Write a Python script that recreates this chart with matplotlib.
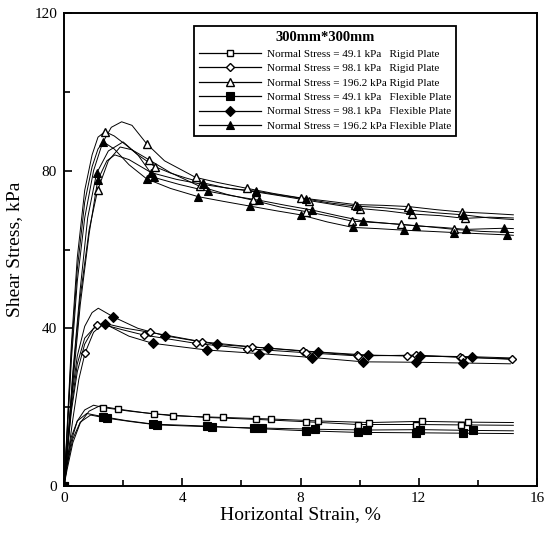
import matplotlib
matplotlib.use("Agg")
import matplotlib.pyplot as plt
from matplotlib.ticker import MultipleLocator

plt.rcParams['font.family'] = ['Liberation Serif', 'DejaVu Serif']

# ---------------- data ----------------
legend_title = "300mm*300mm"
labels = [
    "Normal Stress = 49.1 kPa   Rigid Plate",
    "Normal Stress = 98.1 kPa   Rigid Plate",
    "Normal Stress = 196.2 kPa Rigid Plate",
    "Normal Stress = 49.1 kPa   Flexible Plate",
    "Normal Stress = 98.1 kPa   Flexible Plate",
    "Normal Stress = 196.2 kPa Flexible Plate",
]
x_label = "Horizontal Strain, %"
y_label = "Shear Stress, kPa"

# ---- 49.1 kPa, rigid plate (open squares)
sr1_x = [0, 0.1, 0.25, 0.45, 0.7, 1.0, 1.33, 2.2, 3.06, 4.8, 6.5, 8.2, 9.93, 11.9, 13.43, 15.2]
sr1_y = [0, 5, 11.5, 16.5, 19.3, 20.5, 19.9, 19.0, 18.3, 17.4, 16.9, 16.3, 15.6, 15.6, 15.5, 15.4]
sr1_mx = [0, 1.33, 3.06, 4.8, 6.5, 8.2, 9.93, 11.9, 13.43]
sr1_my = [0, 19.9, 18.3, 17.4, 16.9, 16.3, 15.6, 15.6, 15.5]
sr2_x = [0, 0.1, 0.3, 0.55, 0.85, 1.2, 1.84, 2.7, 3.68, 5.37, 7.0, 8.6, 10.33, 12.1, 13.66, 15.2]
sr2_y = [0, 4, 11, 16, 19.0, 20.3, 19.5, 18.6, 17.8, 17.4, 17.0, 16.5, 16.1, 16.4, 16.2, 16.1]
sr2_mx = [0, 1.84, 3.68, 5.37, 7.0, 8.6, 10.33, 12.1, 13.66]
sr2_my = [0, 19.5, 17.8, 17.4, 17.0, 16.5, 16.1, 16.4, 16.2]

# ---- 49.1 kPa, flexible plate (filled squares)
sf1_x = [0, 0.1, 0.25, 0.45, 0.77, 1.31, 2.1, 3.02, 4.83, 6.43, 8.2, 9.95, 11.9, 13.5, 15.2]
sf1_y = [0, 6, 12.5, 16.5, 18.4, 17.6, 16.6, 15.7, 15.2, 14.6, 14.0, 13.6, 13.5, 13.4, 13.3]
sf1_mx = [0, 1.31, 3.02, 4.83, 6.43, 8.2, 9.95, 11.9, 13.5]
sf1_my = [0, 17.6, 15.7, 15.2, 14.6, 14.0, 13.6, 13.5, 13.4]
sf2_x = [0, 0.1, 0.3, 0.55, 0.9, 1.45, 2.3, 3.15, 5.0, 6.7, 8.5, 10.25, 12.05, 13.85, 15.2]
sf2_y = [0, 5, 12, 16.2, 18.0, 17.2, 16.3, 15.5, 15.0, 14.7, 14.4, 14.2, 14.3, 14.1, 14.0]
sf2_mx = [0, 1.45, 3.15, 5.0, 6.7, 8.5, 10.25, 12.05, 13.85]
sf2_my = [0, 17.2, 15.5, 15.0, 14.7, 14.4, 14.2, 14.3, 14.1]

# ---- 98.1 kPa, rigid plate (open diamonds)
dr1_x = [0, 0.1, 0.25, 0.45, 0.7, 1.1, 1.4, 2.1, 2.91, 4.66, 6.35, 8.1, 9.9, 11.6, 13.4, 15.15]
dr1_y = [0, 8, 20, 31, 37.5, 40.8, 41.2, 40.0, 39.0, 36.6, 35.3, 34.2, 33.2, 33.0, 32.8, 32.1]
dr1_mx = [0, 1.1, 2.91, 4.66, 6.35, 8.1, 9.9, 11.6, 13.4, 15.15]
dr1_my = [0, 40.8, 39.0, 36.6, 35.3, 34.2, 33.2, 33.0, 32.8, 32.1]
dr2_x = [0, 0.12, 0.3, 0.5, 0.71, 1.0, 1.3, 2.0, 2.7, 4.45, 6.2, 8.2, 9.95, 11.9, 13.45, 15.1]
dr2_y = [0, 7, 17, 27, 33.7, 39.0, 41.0, 39.6, 38.3, 36.2, 34.8, 33.8, 33.0, 33.2, 32.6, 32.3]
dr2_mx = [0, 0.71, 2.7, 4.45, 6.2, 8.2, 9.95, 11.9, 13.45]
dr2_my = [0, 33.7, 38.3, 36.2, 34.8, 33.8, 33.0, 33.2, 32.6]

# ---- 98.1 kPa, flexible plate (filled diamonds)
df1_x = [0, 0.1, 0.25, 0.45, 0.7, 0.95, 1.16, 1.67, 2.5, 3.42, 5.17, 6.9, 8.6, 10.3, 12.04, 13.8, 15.1]
df1_y = [0, 9, 22, 33, 40.5, 44.0, 45.1, 42.9, 40.0, 38.1, 35.9, 35.0, 34.0, 33.2, 33.0, 32.8, 32.5]
df1_mx = [0, 1.67, 3.42, 5.17, 6.9, 8.6, 10.3, 12.04, 13.8]
df1_my = [0, 42.9, 38.1, 35.9, 35.0, 34.0, 33.2, 33.0, 32.8]
df2_x = [0, 0.1, 0.25, 0.45, 0.7, 1.0, 1.39, 2.2, 3.0, 4.83, 6.6, 8.4, 10.13, 11.9, 13.5, 15.1]
df2_y = [0, 8, 19, 29, 36, 40.0, 41.1, 38.0, 36.2, 34.5, 33.6, 32.6, 31.5, 31.4, 31.2, 31.0]
df2_mx = [0, 1.39, 3.0, 4.83, 6.6, 8.4, 10.13, 11.9, 13.5]
df2_my = [0, 41.1, 36.2, 34.5, 33.6, 32.6, 31.5, 31.4, 31.2]

# ---- 196.2 kPa, rigid plate (open triangles)
tr1_x = [0, 0.1, 0.25, 0.45, 0.7, 1.0, 1.3, 1.6, 1.95, 2.3, 2.8, 3.4, 4.45, 5.2, 6.2, 7.1, 8.0, 9.0, 9.85, 10.8, 11.65, 12.6, 13.45, 14.3, 15.2]
tr1_y = [0, 12, 32, 52, 68, 80, 87, 91, 92.4, 91.5, 86.8, 82.5, 78.3, 77.0, 75.5, 74.2, 73.1, 72.2, 71.4, 71.2, 70.9, 70.1, 69.5, 69.2, 68.8]
tr1_mx = [0, 2.8, 4.45, 6.2, 8.0, 9.85, 11.65, 13.45]
tr1_my = [0, 86.8, 78.3, 75.5, 73.1, 71.4, 70.9, 69.5]
tr2_x = [0, 0.1, 0.25, 0.45, 0.7, 0.95, 1.15, 1.39, 1.7, 2.1, 2.5, 3.08, 3.6, 4.1, 4.71, 5.5, 6.5, 7.5, 8.3, 9.2, 10.0, 10.9, 11.76, 12.7, 13.56, 14.4, 15.2]
tr2_y = [0, 14, 36, 58, 75, 84, 88.5, 89.9, 88.8, 86.5, 84.0, 81.0, 79.4, 78.2, 76.9, 75.6, 74.6, 73.4, 72.4, 71.3, 70.4, 69.8, 69.0, 68.6, 67.9, 68.2, 68.0]
tr2_mx = [0, 1.39, 3.08, 4.71, 6.5, 8.3, 10.0, 11.76, 13.56]
tr2_my = [0, 89.9, 81.0, 76.9, 74.6, 72.4, 70.4, 69.0, 67.9]
tr3_x = [0, 0.12, 0.3, 0.55, 0.85, 1.14, 1.5, 1.9, 2.3, 2.89, 3.6, 4.6, 5.5, 6.4, 7.3, 8.2, 9.1, 9.73, 10.6, 11.4, 12.3, 13.2, 14.1, 15.2]
tr3_y = [0, 10, 28, 48, 65, 75.1, 82.5, 86.0, 85.3, 82.7, 79.5, 76.0, 74.0, 72.5, 70.8, 69.6, 68.3, 67.2, 66.8, 66.4, 65.8, 65.1, 64.6, 64.3]
tr3_mx = [0, 1.14, 2.89, 4.6, 6.4, 8.2, 9.73, 11.4, 13.2]
tr3_my = [0, 75.1, 82.7, 76.0, 72.5, 69.6, 67.2, 66.4, 65.1]

# ---- 196.2 kPa, flexible plate (filled triangles)
tf1_x = [0, 0.1, 0.25, 0.45, 0.7, 0.95, 1.15, 1.33, 1.7, 2.2, 2.8, 3.6, 4.54, 5.4, 6.3, 7.2, 8.0, 8.9, 9.77, 10.6, 11.5, 12.4, 13.2, 14.1, 15.0, 15.2]
tf1_y = [0, 13, 34, 55, 72, 81, 85.5, 87.3, 85.5, 81.5, 77.9, 75.5, 73.4, 72.2, 71.0, 69.8, 68.8, 67.0, 65.6, 65.3, 64.9, 64.6, 64.3, 64.0, 63.7, 63.6]
tf1_mx = [0, 1.33, 2.8, 4.54, 6.3, 8.0, 9.77, 11.5, 13.2, 15.0]
tf1_my = [0, 87.3, 77.9, 73.4, 71.0, 68.8, 65.6, 64.9, 64.3, 63.7]
tf2_x = [0, 0.12, 0.3, 0.55, 0.8, 1.1, 1.5, 2.0, 2.5, 3.04, 3.9, 4.86, 5.7, 6.6, 7.5, 8.4, 9.3, 10.13, 11.0, 11.9, 12.8, 13.6, 14.9, 15.2]
tf2_y = [0, 10, 29, 50, 68, 79.3, 85.0, 87.3, 84.0, 78.3, 76.5, 74.8, 73.6, 72.5, 71.2, 70.0, 68.5, 67.2, 66.6, 66.0, 65.6, 65.1, 65.4, 65.3]
tf2_mx = [0, 1.1, 3.04, 4.86, 6.6, 8.4, 10.13, 11.9, 13.6, 14.9]
tf2_my = [0, 79.3, 78.3, 74.8, 72.5, 70.0, 67.2, 66.0, 65.1, 65.4]
tf3_x = [0, 0.12, 0.3, 0.55, 0.85, 1.14, 1.45, 1.72, 2.2, 2.95, 3.8, 4.7, 5.6, 6.5, 7.3, 8.2, 9.0, 9.9, 10.8, 11.7, 12.6, 13.5, 14.4, 15.2]
tf3_y = [0, 9, 26, 46, 64, 77.6, 82.5, 84.0, 82.8, 79.5, 77.8, 76.5, 75.5, 74.8, 73.8, 72.8, 71.8, 71.0, 70.6, 70.0, 69.3, 68.8, 68.0, 67.6]
tf3_mx = [0, 1.14, 2.95, 4.7, 6.5, 8.2, 9.9, 11.7, 13.5]
tf3_my = [0, 77.6, 79.5, 76.5, 74.8, 72.8, 71.0, 70.0, 68.8]

# ---------------- drawing ----------------
fig = plt.figure(figsize=(5.45, 5.36), dpi=100)
ax = fig.add_axes([64 / 545, 50 / 536, 473 / 545, 473 / 536])

lw = 0.7
open_kw = dict(markerfacecolor='white', markeredgecolor='black', markeredgewidth=1.0)
fill_kw = dict(markerfacecolor='black', markeredgecolor='black', markeredgewidth=0.8)

curves = [
    (sr1_x, sr1_y, sr1_mx, sr1_my, 's', 5.0, open_kw),
    (sr2_x, sr2_y, sr2_mx, sr2_my, 's', 5.0, open_kw),
    (sf1_x, sf1_y, sf1_mx, sf1_my, 's', 5.8, fill_kw),
    (sf2_x, sf2_y, sf2_mx, sf2_my, 's', 5.8, fill_kw),
    (dr1_x, dr1_y, dr1_mx, dr1_my, 'D', 4.0, open_kw),
    (dr2_x, dr2_y, dr2_mx, dr2_my, 'D', 4.0, open_kw),
    (df1_x, df1_y, df1_mx, df1_my, 'D', 4.6, fill_kw),
    (df2_x, df2_y, df2_mx, df2_my, 'D', 4.6, fill_kw),
    (tr1_x, tr1_y, tr1_mx, tr1_my, '^', 5.5, open_kw),
    (tr2_x, tr2_y, tr2_mx, tr2_my, '^', 5.5, open_kw),
    (tr3_x, tr3_y, tr3_mx, tr3_my, '^', 5.5, open_kw),
    (tf1_x, tf1_y, tf1_mx, tf1_my, '^', 5.8, fill_kw),
    (tf2_x, tf2_y, tf2_mx, tf2_my, '^', 5.8, fill_kw),
    (tf3_x, tf3_y, tf3_mx, tf3_my, '^', 5.8, fill_kw),
]
for x, y, mx, my, mk, ms, kw in curves:
    ax.plot(x, y, color='black', lw=lw, zorder=2)
    ax.plot(mx, my, linestyle='none', marker=mk, markersize=ms, zorder=3, **kw)

# legend proxies
handles = []
for mk, ms, kw in [('s', 5.0, open_kw), ('D', 4.0, open_kw), ('^', 5.5, open_kw),
                   ('s', 5.8, fill_kw), ('D', 4.6, fill_kw), ('^', 5.8, fill_kw)]:
    h, = ax.plot([], [], color='black', lw=0.9, marker=mk, markersize=ms, **kw)
    handles.append(h)

leg = ax.legend(handles, labels, title=legend_title,
                title_fontproperties={'weight': 'bold', 'size': 10.5},
                prop={'size': 8}, loc='upper left', bbox_to_anchor=(0.275, 0.972),
                borderaxespad=0, frameon=True, fancybox=False, framealpha=1,
                edgecolor='black', handlelength=5.6, handletextpad=0.5,
                labelspacing=0.42, borderpad=0.45, numpoints=1)
leg.get_frame().set_linewidth(1.3)

ax.set_xlim(0, 16)
ax.set_ylim(0, 120)
ax.xaxis.set_major_locator(MultipleLocator(4))
ax.xaxis.set_minor_locator(MultipleLocator(2))
ax.yaxis.set_major_locator(MultipleLocator(40))
ax.yaxis.set_minor_locator(MultipleLocator(20))
ax.tick_params(which='both', direction='in', top=False, right=False, width=1.2,
               labelsize=11)
ax.tick_params(which='major', length=6)
ax.tick_params(which='minor', length=4)
ax.tick_params(axis='y', pad=5)
ax.tick_params(axis='x', pad=4)
for s in ax.spines.values():
    s.set_linewidth(1.4)

ax.set_xlabel(x_label, fontsize=14, labelpad=1)
ax.set_ylabel(y_label, fontsize=14, labelpad=8)

fig.savefig("out.png", dpi=100)
